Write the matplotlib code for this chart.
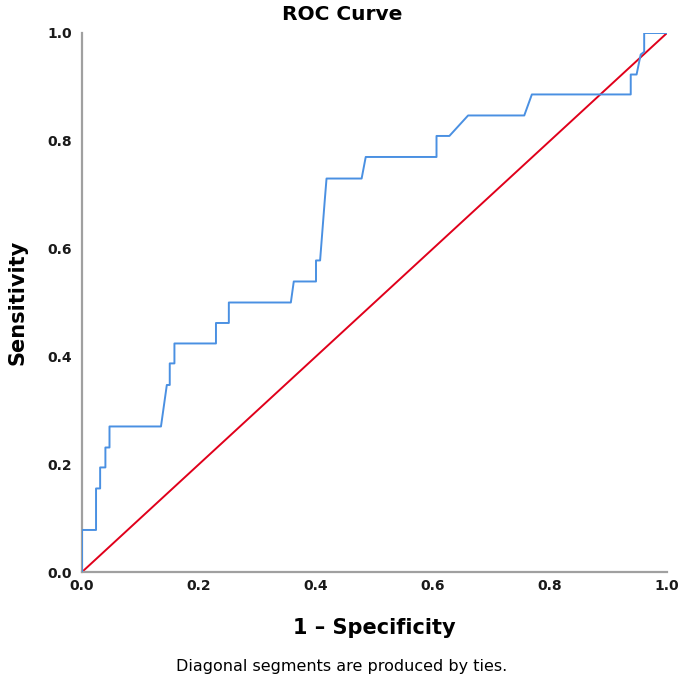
import matplotlib
matplotlib.use("Agg")
import matplotlib.pyplot as plt

# ROC curve points (1 - specificity, sensitivity)
fpr = [0.0, 0.0, 0.024, 0.024, 0.031, 0.031, 0.040, 0.040, 0.047, 0.047,
       0.135, 0.145, 0.150, 0.150, 0.158, 0.158, 0.229, 0.229, 0.251, 0.251,
       0.357, 0.362, 0.400, 0.400, 0.407, 0.415, 0.418, 0.478, 0.485, 0.606,
       0.606, 0.628, 0.660, 0.756, 0.769, 0.938, 0.938, 0.948, 0.955, 0.961,
       0.961, 1.0]
tpr = [0.0, 0.078, 0.078, 0.155, 0.155, 0.194, 0.194, 0.231, 0.231, 0.270,
       0.270, 0.347, 0.347, 0.387, 0.387, 0.424, 0.424, 0.462, 0.462, 0.500,
       0.500, 0.539, 0.539, 0.578, 0.578, 0.690, 0.730, 0.730, 0.770, 0.770,
       0.809, 0.809, 0.847, 0.847, 0.886, 0.886, 0.923, 0.923, 0.960, 0.965,
       1.0, 1.0]
ref_line = [0.0, 1.0]
ticks = [0.0, 0.2, 0.4, 0.6, 0.8, 1.0]
tick_labels = ["0.0", "0.2", "0.4", "0.6", "0.8", "1.0"]

fig = plt.figure(figsize=(6.85, 6.86), dpi=100)
ax = fig.add_axes([82/685, 1 - 572/686, 585/685, 539/686])

ax.plot(fpr, tpr, color="#4a90e2", lw=1.4, zorder=3)
ax.plot(ref_line, ref_line, color="#e0001b", lw=1.4, zorder=2)

ax.set_xlim(0, 1)
ax.set_ylim(0, 1)
ax.set_xticks(ticks)
ax.set_xticklabels(tick_labels)
ax.set_yticks(ticks)
ax.set_yticklabels(tick_labels)
ax.tick_params(axis="x", length=0, labelsize=10, pad=5)
ax.tick_params(axis="y", length=0, labelsize=10, pad=7)
for lab in ax.get_xticklabels() + ax.get_yticklabels():
    lab.set_fontweight("semibold")
    lab.set_color("#1a1a1a")

for s in ["top", "right"]:
    ax.spines[s].set_visible(False)
for s in ["left", "bottom"]:
    ax.spines[s].set_color("#a0a0a0")
    ax.spines[s].set_linewidth(1.6)

fig.text(0.5, 1 - 15/686, "ROC Curve", ha="center", va="center",
         fontsize=14.5, fontweight="bold")
fig.text(374/685, 1 - 628/686, "1 – Specificity", ha="center", va="center",
         fontsize=15, fontweight="bold")
fig.text(18/685, 1 - 302/686, "Sensitivity", ha="center", va="center",
         rotation=90, fontsize=15, fontweight="bold")
fig.text(342/685, 1 - 667/686, "Diagonal segments are produced by ties.",
         ha="center", va="center", fontsize=11.5)

fig.savefig("out.png", dpi=100)
